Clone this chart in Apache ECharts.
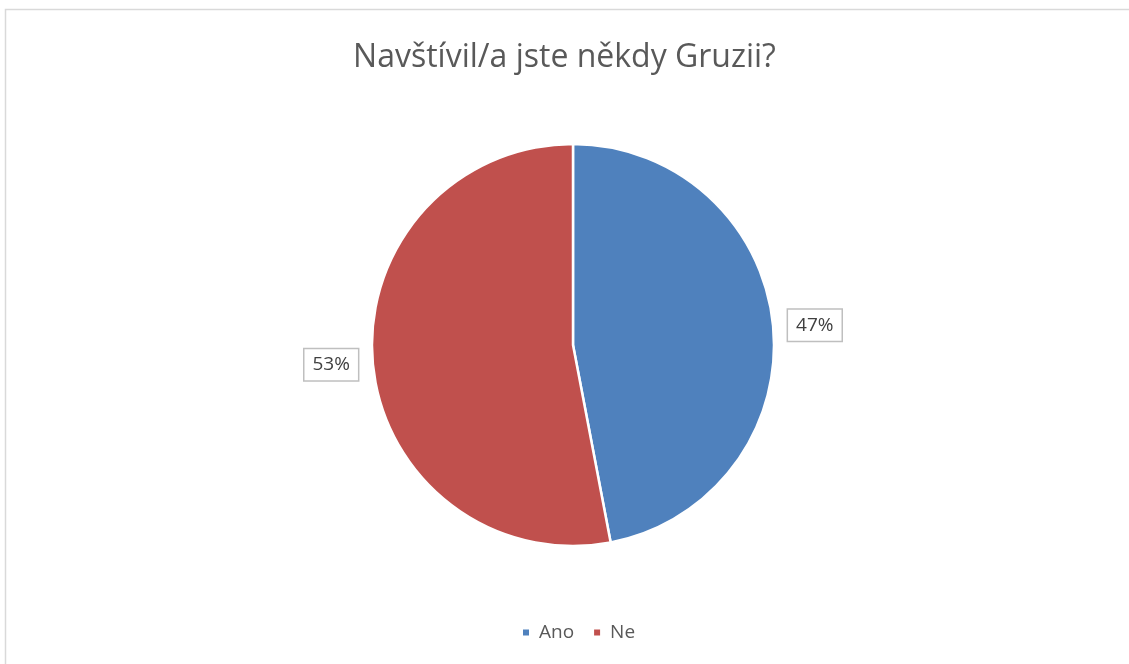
<!DOCTYPE html>
<html>
<head>
<meta charset="utf-8">
<script src="https://cdn.jsdelivr.net/npm/echarts@6/dist/echarts.min.js"></script>
<style>
  html, body { margin: 0; padding: 0; background: #fff; }
  #main { width: 1129px; height: 664px; }
</style>
</head>
<body>
<div id="main"></div>
<script>
var categories = ['Ano', 'Ne'];
var values = [47, 53];
var colors = ['#4F81BD', '#C0504D'];

var font = '"Open Sans", "Noto Sans", sans-serif';
var myChart = echarts.init(document.getElementById('main'));

var option = {
  backgroundColor: '#fff',
  animation: false,
  title: {
    text: 'Navštívil/a jste někdy Gruzii?',
    left: 'center',
    top: 37,
    textStyle: { fontFamily: font, fontSize: 32, fontWeight: 'normal', color: '#595959' }
  },
  legend: {
    bottom: 17,
    left: 516,
    itemWidth: 8,
    itemHeight: 8,
    itemGap: 18,
    icon: 'rect',
    data: categories,
    textStyle: { fontFamily: font, fontSize: 19, color: '#595959', padding: [0, 0, 0, 4] }
  },
  graphic: [{
    type: 'rect',
    shape: { x: 5.5, y: 9.5, width: 1200, height: 700 },
    style: { fill: 'none', stroke: '#D9D9D9', lineWidth: 1.5 },
    silent: true
  }],
  series: [{
    type: 'pie',
    center: [573, 345],
    radius: 201,
    startAngle: 90,
    clockwise: true,
    color: colors,
    itemStyle: { borderColor: '#fff', borderWidth: 2.5 },
    label: {
      show: true,
      position: 'outside',
      formatter: '{d}%',
      fontFamily: font,
      fontSize: 19,
      color: '#404040',
      backgroundColor: '#fff',
      borderColor: '#BFBFBF',
      borderWidth: 1.5,
      padding: [6, 8, 6, 8]
    },
    labelLine: { show: false, length: 10, length2: 0 },
    data: categories.map(function (c, i) { return { name: c, value: values[i] }; })
  }]
};
myChart.setOption(option);
</script>
</body>
</html>
